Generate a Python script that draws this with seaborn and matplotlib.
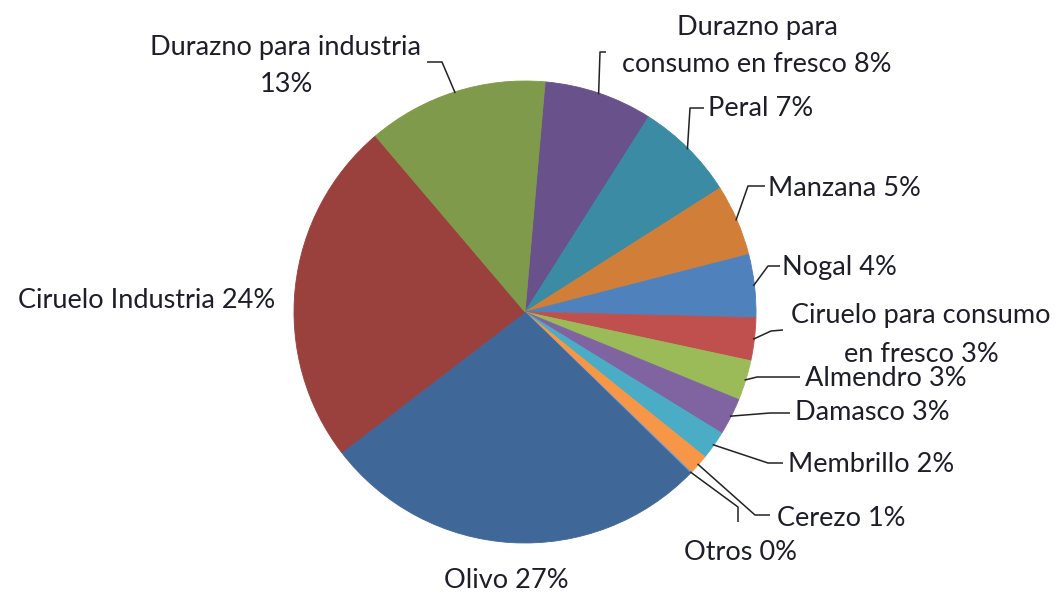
import numpy as np
import seaborn as sns
import matplotlib.pyplot as plt

sns.set_theme(style="white")
plt.rcParams['font.family'] = ['Lato', 'DejaVu Sans']

# clockwise order starting near 12 o'clock
names = ['Durazno para\nconsumo en fresco', 'Peral', 'Manzana', 'Nogal',
         'Ciruelo para consumo\nen fresco', 'Almendro', 'Damasco', 'Membrillo',
         'Cerezo', 'Otros', 'Olivo', 'Ciruelo Industria',
         'Durazno para industria\n']
shares = [7.6, 7.0, 5.0, 4.4, 3.0, 2.8, 2.6, 2.0, 1.4, 0.1, 27.3, 24.2, 12.6]
pct_labels = ['8%', '7%', '5%', '4%', '3%', '3%', '3%', '2%', '1%', '0%',
              '27%', '24%', '13%']
colors = ['#69518B', '#3A8BA3', '#D17E38', '#4F81BD', '#C0504D', '#9BBB59',
          '#8064A2', '#4BACC6', '#F79646', '#7E9ECF', '#3F6899', '#9A403D',
          '#7E9A4A']

# layout (pixel coords, y down): text anchor, alignment, leader elbow points
cx, cy, rad = 525, 312, 231
text_pos = [(757, 46, 'center'), (708, 108, 'left'), (768, 188, 'left'),
            (782, 268, 'left'), (921, 335, 'center'), (805, 379, 'left'),
            (795, 413, 'left'), (788, 465, 'left'), (777, 518, 'left'),
            (740, 552, 'center'), (506, 580, 'center'), (147, 300, 'center'),
            (286, 66, 'center')]
elbows = [[(606, 52), (600, 52)], [(704, 108), (690, 108)],
          [(765, 186), (748, 186)], [(780, 266), (768, 266)],
          [(783, 330), (771, 331)], [(800, 377), (757, 377)],
          [(790, 413), (770, 413)], [(783, 463), (768, 463)],
          [(770, 515), (755, 515)], [(738, 522), (738, 507)],
          None, None, [(427, 62), (442, 62)]]

fig = plt.figure(figsize=(10.6, 5.96), dpi=100)
ax = fig.add_axes([0, 0, 1, 1])

start = -85.0
wedges, _ = ax.pie(shares, colors=colors, startangle=start, counterclock=True,
                   center=(cx, cy), radius=rad, frame=True,
                   wedgeprops=dict(linewidth=0.6))
for w in wedges:
    w.set_edgecolor(w.get_facecolor())
ax.set_xlim(0, 1060)
ax.set_ylim(596, 0)
ax.set_aspect('equal')
ax.axis('off')

cum = np.cumsum([0] + shares)
for i, name in enumerate(names):
    mid = np.deg2rad(start + 3.6 * (cum[i] + cum[i + 1]) / 2)
    tip = (cx + rad * 0.995 * np.cos(mid), cy + rad * 0.995 * np.sin(mid))
    if elbows[i] is not None:
        pts = elbows[i] + [tip]
        ax.plot([p[0] for p in pts], [p[1] for p in pts], color='#222222',
                lw=1.1, solid_capstyle='butt')
    x, y, ha = text_pos[i]
    if name.endswith('\n'):
        label = name + pct_labels[i]
    else:
        label = name + ' ' + pct_labels[i]
    ax.text(x, y, label, ha=ha, va='center', fontsize=19.5, color='#1E1E2A',
            linespacing=1.65)

fig.savefig('out.png', dpi=100)
